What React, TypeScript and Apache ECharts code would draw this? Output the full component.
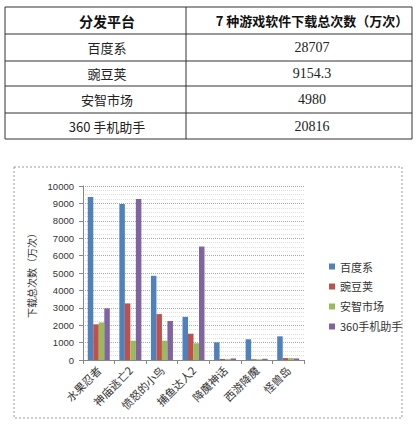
import React, { useEffect, useRef } from "react";
import * as echarts from "echarts";

// Table data
const tableHeaders = ["分发平台", "7 种游戏软件下载总次数（万次）"];
const platforms = ["百度系", "豌豆荚", "安智市场", "360 手机助手"];
const totals = ["28707", "9154.3", "4980", "20816"];

// Chart data
const games = ["水果忍者", "神庙逃亡2", "愤怒的小鸟", "捕鱼达人2", "降魔神话", "西游降魔", "怪兽岛"];
const seriesNames = ["百度系", "豌豆荚", "安智市场", "360手机助手"];
const baidu = [9370, 8970, 4840, 2480, 1015, 1190, 1360];
const wandoujia = [2050, 3250, 2640, 1510, 60, 40, 110];
const anzhi = [2160, 1110, 1110, 960, 50, 40, 110];
const s360 = [2970, 9250, 2240, 6520, 90, 70, 90];
const yTitle = "下载总次数（万次）";

const colors = ["#4F81BD", "#C0504D", "#9BBB59", "#8064A2"];
const CJK = "'Noto Sans CJK SC', 'Noto Sans', sans-serif";
const SERIF = "'Liberation Serif', 'DejaVu Serif', serif";

export default function App() {
  const ref = useRef<HTMLDivElement>(null);
  useEffect(() => {
    const chart = echarts.init(ref.current!, null, { renderer: "svg" });

    // Table graphics
    const tl = 5, tr = 412, tm = 186;
    const rows = [7, 34, 61, 86, 113, 139];
    const g: any[] = [];
    rows.forEach((y) => {
      g.push({ type: "line", shape: { x1: tl, y1: y, x2: tr, y2: y }, style: { stroke: "#333", lineWidth: 1 } });
    });
    [tl, tm, tr].forEach((x) => {
      g.push({ type: "line", shape: { x1: x, y1: rows[0], x2: x, y2: rows[5] }, style: { stroke: "#333", lineWidth: 1 } });
    });
    const c1 = 107, c2 = 312;
    g.push({ type: "text", x: c1, y: (rows[0] + rows[1]) / 2, style: { text: tableHeaders[0], font: `bold 14px ${CJK}`, fill: "#111", align: "center", verticalAlign: "middle" } });
    g.push({ type: "text", x: c2, y: (rows[0] + rows[1]) / 2, style: { text: tableHeaders[1], font: `bold 13px ${CJK}`, fill: "#111", align: "center", verticalAlign: "middle" } });
    platforms.forEach((p, i) => {
      const yc = (rows[i + 1] + rows[i + 2]) / 2;
      g.push({ type: "text", x: c1, y: yc, style: { text: p, font: `13px ${CJK}`, fill: "#222", align: "center", verticalAlign: "middle" } });
      g.push({ type: "text", x: c2, y: yc, style: { text: totals[i], font: `14px ${SERIF}`, fill: "#222", align: "center", verticalAlign: "middle" } });
    });
    // chart frame
    g.push({ type: "rect", shape: { x: 14, y: 167, width: 388, height: 251 }, style: { fill: "none", stroke: "#999", lineWidth: 1, lineDash: [2, 2] } });

    const data = [baidu, wandoujia, anzhi, s360];

    chart.setOption({
      animation: false,
      backgroundColor: "#fff",
      graphic: g,
      color: colors,
      grid: { left: 83, right: 112, top: 186, bottom: 64, containLabel: false },
      legend: {
        orient: "vertical",
        left: 324,
        top: 256,
        itemWidth: 6,
        itemHeight: 6,
        itemGap: 9,
        icon: "rect",
        textStyle: { fontFamily: CJK, fontSize: 11, color: "#333" },
        data: seriesNames,
      },
      xAxis: {
        type: "category",
        data: games,
        axisLine: { lineStyle: { color: "#888" } },
        axisTick: { show: true, length: 4, lineStyle: { color: "#888" } },
        axisLabel: { interval: 0, rotate: 45, fontFamily: CJK, fontSize: 11, color: "#333", margin: 8 },
        splitLine: { show: false },
      },
      yAxis: {
        type: "value",
        min: 0,
        max: 10000,
        interval: 1000,
        name: yTitle,
        nameLocation: "middle",
        nameGap: 43,
        nameRotate: 90,
        nameTextStyle: { fontFamily: CJK, fontSize: 10, color: "#333" },
        axisLine: { show: true, lineStyle: { color: "#888" } },
        axisTick: { show: true, length: 4, lineStyle: { color: "#888" } },
        axisLabel: {
          fontFamily: "'Liberation Sans', sans-serif",
          fontSize: 9.5,
          color: "#333",
          margin: 9,
          formatter: (v: number) => String(v),
        },
        splitLine: { show: true, lineStyle: { color: "#aaa", type: "dotted", width: 1 } },
        minorTick: { show: false, splitNumber: 4 },
        minorSplitLine: { show: true, lineStyle: { color: "#ddd", type: "dotted", width: 1 } },
      },
      series: seriesNames.map((name, i) => ({
        name,
        type: "bar",
        data: data[i],
        barWidth: 5.5,
        barGap: "0%",
        itemStyle: { color: colors[i] },
      })),
    });
    return () => chart.dispose();
  }, []);
  return (
    <div
      ref={ref}
      style={{ position: "fixed", left: 0, top: 0, width: 416, height: 424 }}
    />
  );
}
